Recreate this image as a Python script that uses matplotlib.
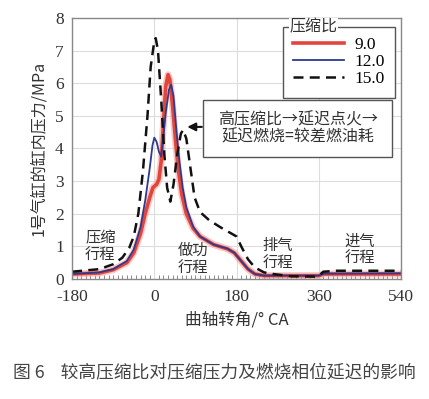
import matplotlib.pyplot as plt
from matplotlib.ticker import MultipleLocator
from matplotlib.patches import Rectangle
from matplotlib.lines import Line2D

plt.rcParams["axes.unicode_minus"] = False

# ============================
# DATA
# ============================
ratios = ["9.0", "12.0", "15.0"]

red_x = [-180, -120, -90, -60, -45, -30, -20, -10, -3, 5, 10, 15, 20, 25, 30, 34, 40, 46, 52, 60,
         70, 85, 100, 130, 160, 175, 190, 205, 220, 240, 360, 370, 540]
red_y = [0.15, 0.18, 0.28, 0.5, 0.8, 1.4, 2.0, 2.5, 2.8, 2.9, 3.05, 3.6, 4.8, 5.9, 6.26, 6.1, 5.3, 4.3, 3.4, 2.6,
         2.0, 1.55, 1.3, 1.05, 0.92, 0.8, 0.55, 0.3, 0.15, 0.1, 0.1, 0.15, 0.15]

blue_x = [-180, -120, -90, -60, -45, -30, -20, -10, -4, 0, 5, 10, 15, 20, 25, 32, 37, 42, 48, 55,
          62, 70, 85, 100, 130, 160, 175, 190, 205, 220, 240, 360, 370, 540]
blue_y = [0.15, 0.2, 0.3, 0.55, 0.9, 1.6, 2.4, 3.4, 4.1, 4.33, 4.2, 3.9, 3.75, 4.4, 5.1, 5.8, 5.95, 5.6, 4.6, 3.6,
          2.8, 2.2, 1.6, 1.3, 1.05, 0.93, 0.8, 0.55, 0.3, 0.15, 0.1, 0.1, 0.16, 0.17]

black_x = [-180, -120, -90, -70, -55, -45, -35, -25, -15, -8, 0, 3, 8, 15, 22, 28, 35, 42, 50, 58,
           63, 70, 78, 88, 100, 120, 145, 170, 180, 190, 205, 220, 240, 260, 300, 350, 360, 370, 400, 540]
black_y = [0.22, 0.3, 0.45, 0.65, 0.95, 1.3, 2.0, 3.3, 5.0, 6.5, 7.3, 7.38, 7.0, 5.5, 3.8, 2.8, 2.37, 2.9, 3.8, 4.45,
           4.57, 4.3, 3.5, 2.5, 2.05, 1.8, 1.58, 1.38, 1.3, 1.0, 0.6, 0.35, 0.2, 0.15, 0.08, 0.07, 0.1, 0.22, 0.25, 0.25]

x_ticks = [-180, 0, 180, 360, 540]
y_ticks = list(range(0, 9))

stroke_labels = ["压缩\n行程", "做功\n行程", "排气\n行程", "进气\n行程"]
stroke_pos = [(-118, 1.0), (85, 0.6), (270, 0.75), (450, 0.9)]

NUM = ["Liberation Serif", "Noto Sans CJK SC"]
CJK = ["Noto Sans CJK SC", "DejaVu Sans"]

fig = plt.figure(figsize=(4.29, 3.99), dpi=100)
ax = fig.add_axes([0.168, 0.301, 0.767, 0.654])

ax.plot(red_x, red_y, color="#f4a6a0", lw=5, alpha=0.6, solid_capstyle="round")
ax.plot(red_x, red_y, color="#e2453b", lw=2.6)
ax.plot(blue_x, blue_y, color="#2e3a8f", lw=1.3)
ax.plot(black_x, black_y, color="#111111", lw=1.8, ls=(0, (4, 2.5)))

ax.set_xlim(-180, 540)
ax.set_ylim(0, 8)
ax.set_xticks(x_ticks)
ax.set_yticks(y_ticks)
ax.xaxis.set_minor_locator(MultipleLocator(10))
ax.tick_params(which="major", length=0, labelsize=12.5, colors="#333333")
ax.tick_params(axis="x", which="major", pad=7)
ax.tick_params(axis="y", which="major", pad=6)
ax.tick_params(which="minor", axis="x", direction="in", length=3, color="#777777")
for lab in ax.get_xticklabels() + ax.get_yticklabels():
    lab.set_family(NUM)
ax.grid(True, color="#dddddd", lw=0.8)
for s in ax.spines.values():
    s.set_color("#888888")
    s.set_linewidth(1.0)

ax.set_xlabel("曲轴转角/° CA", family=CJK, fontsize=12, color="#333333", labelpad=5)
ax.set_ylabel("1号气缸的缸内压力/MPa", family=CJK, fontsize=11.5, color="#333333", labelpad=6)

for lab, (px, py) in zip(stroke_labels, stroke_pos):
    ax.text(px, py, lab, family=CJK, fontsize=11, color="#333333", ha="center", va="center",
            linespacing=1.05)

# legend with the title sitting on the frame
handles = [Line2D([], [], color="#e2453b", lw=2.6),
           Line2D([], [], color="#2e3a8f", lw=1.3),
           Line2D([], [], color="#111111", lw=1.8, ls=(0, (4, 2.5)))]
leg = ax.legend(handles, ratios, loc="upper left", bbox_to_anchor=(0.641, 0.966),
                prop={"family": NUM, "size": 12.5}, frameon=True, fancybox=False,
                edgecolor="#555555", framealpha=1, handlelength=2.9, labelspacing=0.05,
                borderpad=0.6, handletextpad=0.6, borderaxespad=0)
leg.get_frame().set_linewidth(1.0)
ax.text(0.66, 0.966, "压缩比", transform=ax.transAxes, family=CJK, fontsize=11.5,
        color="#333333", ha="left", va="center", zorder=10,
        bbox=dict(facecolor="white", edgecolor="none", pad=0.5))

# annotation box
ax.add_patch(Rectangle((0.399, 0.469), 0.973 - 0.399, 0.215, transform=ax.transAxes,
                       facecolor="white", edgecolor="#555555", lw=1.0, zorder=5))
ax.text(0.686, 0.577, "高压缩比→延迟点火→\n延迟燃烧=较差燃油耗", transform=ax.transAxes,
        family=CJK, fontsize=11.5, color="#333333", ha="center", va="center",
        linespacing=1.0, zorder=6)
ax.annotate("", xy=(66, 4.66), xytext=(110, 4.66),
            arrowprops=dict(arrowstyle="-|>", color="#111111", lw=1.5, mutation_scale=12),
            zorder=6)

fig.text(0.03, 0.065, "图 6    较高压缩比对压缩压力及燃烧相位延迟的影响", family=CJK,
         fontsize=12.8, color="#444444", ha="left", va="center")

fig.savefig("out.png", dpi=100)
